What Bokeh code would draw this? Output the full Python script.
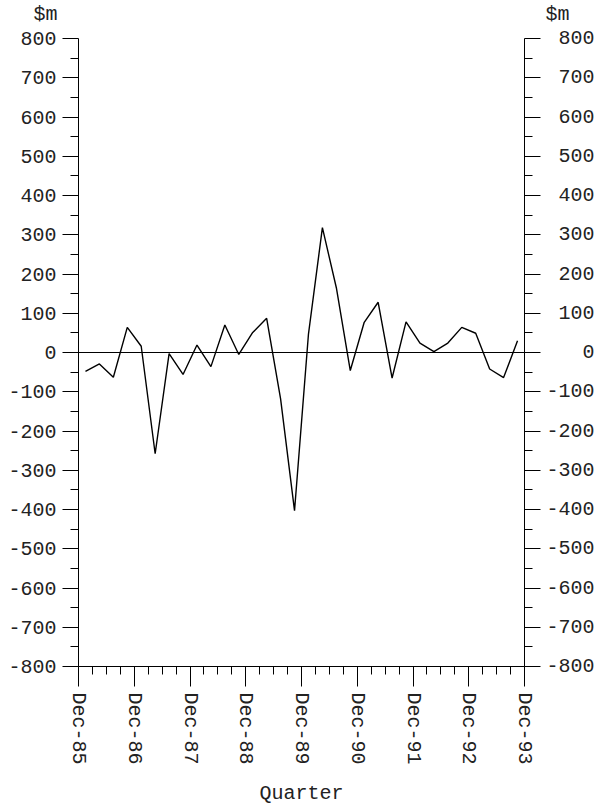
import numpy as np
from bokeh.plotting import figure
from bokeh.layouts import column
from bokeh.models import FixedTicker, LinearAxis, Span, Range1d
from bokeh.embed import file_html
from bokeh.resources import INLINE

# Quarterly values ($m), Mar-86 .. Dec-93
values = [-48, -29, -63, 64, 16, -258, -3, -56, 19, -36, 70, -5, 51, 87, -118, -403,
          47, 318, 165, -46, 77, 128, -65, 78, 24, 2, 24, 64, 49, -42, -64, 30]
year_labels = ["Dec-85", "Dec-86", "Dec-87", "Dec-88", "Dec-89",
               "Dec-90", "Dec-91", "Dec-92", "Dec-93"]
y_ticks = list(range(-800, 801, 100))
unit_label = "$m"

FONT = "Liberation Mono"
FS = "20px"
TXT = "#222222"

FW, FH = 446, 628
BL, BR = 78, 72
TOP_H = 26
n = len(values)
xs = np.arange(n) + 0.5  # mid-quarter positions


def bare(fig):
    fig.outline_line_color = None
    fig.xgrid.visible = False
    fig.ygrid.visible = False


# --- header strip carrying the two "$m" unit labels (as axis labels) ---
top = figure(frame_width=FW, frame_height=TOP_H, output_backend="svg", toolbar_location=None,
             x_range=Range1d(0, 1), y_range=Range1d(0, TOP_H),
             min_border_left=BL, min_border_right=BR, min_border_top=0, min_border_bottom=0,
             x_axis_location=None, y_axis_location=None)
bare(top)
for side in ("left", "right"):
    ax = LinearAxis()
    ax.ticker = FixedTicker(ticks=[12], minor_ticks=[])
    ax.major_label_overrides = {12: unit_label}
    ax.axis_line_color = None
    ax.major_tick_line_color = None
    ax.minor_tick_line_color = None
    ax.major_tick_in = 0
    ax.major_tick_out = 0
    ax.major_label_standoff = 21
    ax.major_label_text_font = FONT
    ax.major_label_text_font_size = FS
    ax.major_label_text_color = TXT
    top.add_layout(ax, side)

# --- main chart ---
p = figure(frame_width=FW, frame_height=FH, output_backend="svg", toolbar_location=None,
           x_range=Range1d(0, n), y_range=Range1d(-800, 800),
           min_border_left=BL, min_border_right=BR, min_border_top=38 - TOP_H,
           min_border_bottom=130,
           y_axis_location=None, x_axis_location=None)
bare(p)

ytick = FixedTicker(ticks=y_ticks, minor_ticks=[t + 50 for t in y_ticks[:-1]])


def style_y(ax):
    ax.ticker = ytick
    ax.major_tick_out = 16
    ax.major_tick_in = 0
    ax.minor_tick_out = 8
    ax.minor_tick_in = 0
    ax.axis_line_color = "black"
    ax.major_tick_line_color = "black"
    ax.minor_tick_line_color = "black"
    ax.major_label_text_font = FONT
    ax.major_label_text_font_size = FS
    ax.major_label_text_color = TXT


left = LinearAxis()
style_y(left)
left.major_label_standoff = 6
left.major_label_overrides = {t: str(t) for t in y_ticks}
p.add_layout(left, "left")

right = LinearAxis()
style_y(right)
right.major_label_standoff = 6
right.major_label_overrides = {t: str(t).rjust(4, "\u2007") for t in y_ticks}
p.add_layout(right, "right")

bottom = LinearAxis()
bottom.ticker = FixedTicker(ticks=list(range(0, n + 1, 4)), minor_ticks=list(range(0, n + 1)))
bottom.major_label_overrides = {i * 4: lab for i, lab in enumerate(year_labels)}
bottom.major_label_orientation = "vertical"
bottom.major_tick_out = 20
bottom.major_tick_in = 0
bottom.minor_tick_out = 8
bottom.minor_tick_in = 0
bottom.major_label_standoff = 6
bottom.axis_line_color = "black"
bottom.major_tick_line_color = "black"
bottom.minor_tick_line_color = "black"
bottom.major_label_text_font = FONT
bottom.major_label_text_font_size = FS
bottom.major_label_text_color = TXT
bottom.axis_label = "Quarter"
bottom.axis_label_text_font = FONT
bottom.axis_label_text_font_size = FS
bottom.axis_label_text_font_style = "normal"
bottom.axis_label_text_color = TXT
bottom.axis_label_standoff = 14
p.add_layout(bottom, "below")

p.add_layout(Span(location=0, dimension="width", line_color="black", line_width=1))

p.line(xs, values, line_color="black", line_width=1.4)

layout = column(top, p, spacing=0)
open("out.html", "w").write(file_html(layout, INLINE))
